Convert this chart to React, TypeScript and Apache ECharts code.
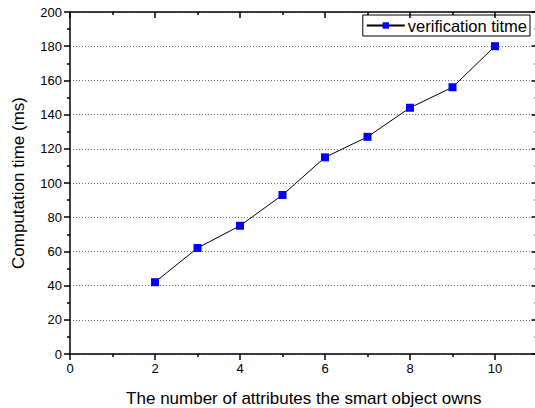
import React, { useEffect, useRef } from "react";
import * as echarts from "echarts";

const xValues = [2, 3, 4, 5, 6, 7, 8, 9, 10];
const times = [42, 62, 75, 93, 115, 127, 144, 156, 180];
const seriesName = "verification titme";
const xTitle = "The number of attributes the smart object owns";
const yTitle = "Computation time (ms)";

const FONT = "'Liberation Sans', Arial, sans-serif";

export default function App() {
  const ref = useRef<HTMLDivElement>(null);
  useEffect(() => {
    if (!ref.current) return;
    const chart = echarts.init(ref.current, undefined, { renderer: "svg" });
    const axisLine = { show: true, onZero: false, lineStyle: { color: "#000", width: 1.5 } };
    chart.setOption({
      animation: false,
      backgroundColor: "#fff",
      grid: { left: 70, right: -2.5, top: 12, bottom: 54, containLabel: false, outerBoundsMode: "none" },
      legend: {
        data: [{ name: seriesName }],
        right: 5,
        top: 15,
        padding: [2, 3, 2, 3],
        borderColor: "#000",
        borderWidth: 1,
        itemWidth: 38,
        itemHeight: 8,
        itemGap: 4,
        textStyle: { fontFamily: FONT, fontSize: 16.5, color: "#000", padding: [0, 0, 0, -2] },
      },
      xAxis: [
        {
          type: "value",
          min: 0,
          max: 11,
          interval: 2,
          position: "bottom",
          name: xTitle,
          nameLocation: "middle",
          nameGap: 36,
          nameTextStyle: { fontFamily: FONT, fontSize: 17, color: "#000" },
          axisLine,
          axisTick: { show: true, inside: false, length: 6, lineStyle: { color: "#000", width: 1.5 } },
          minorTick: { show: true, splitNumber: 2, length: 3, lineStyle: { color: "#000", width: 1.5 } },
          axisLabel: { fontFamily: FONT, fontSize: 13, color: "#000", margin: 8, showMaxLabel: false },
          splitLine: { show: false },
        },
        {
          type: "value",
          min: 0,
          max: 11,
          interval: 2,
          position: "top",
          axisLine,
          axisTick: { show: true, inside: true, length: 6, lineStyle: { color: "#000", width: 1.5 } },
          minorTick: { show: true, splitNumber: 2, length: 3, lineStyle: { color: "#000", width: 1.5 } },
          axisLabel: { show: false },
          splitLine: { show: false },
        },
      ],
      yAxis: [
        {
          type: "value",
          min: 0,
          max: 200,
          interval: 20,
          position: "left",
          name: yTitle,
          nameLocation: "middle",
          nameGap: 43,
          nameRotate: 90,
          nameTextStyle: { fontFamily: FONT, fontSize: 17, color: "#000" },
          axisLine,
          axisTick: { show: true, inside: false, length: 6, lineStyle: { color: "#000", width: 1.5 } },
          minorTick: { show: true, splitNumber: 2, length: 3, lineStyle: { color: "#000", width: 1.5 } },
          axisLabel: { fontFamily: FONT, fontSize: 13, color: "#000", margin: 8 },
          splitLine: { show: true, lineStyle: { color: "#777", width: 1, type: [1, 2] } },
        },
        {
          type: "value",
          min: 0,
          max: 200,
          interval: 20,
          position: "right",
          axisLine,
          axisTick: { show: true, inside: true, length: 6, lineStyle: { color: "#000", width: 1.5 } },
          minorTick: { show: true, splitNumber: 2, length: 3, lineStyle: { color: "#000", width: 1.5 } },
          axisLabel: { show: false },
          splitLine: { show: false },
        },
      ],
      series: [
        {
          name: seriesName,
          type: "line",
          data: xValues.map((x, i) => [x, times[i]]),
          symbol: "rect",
          symbolSize: 8,
          itemStyle: { color: "#0000ff" },
          lineStyle: { color: "#000", width: 1 },
        },
      ],
    });
    return () => chart.dispose();
  }, []);
  return (
    <div
      ref={ref}
      style={{ position: "fixed", left: 0, top: 0, width: 535, height: 408, background: "#fff" }}
    />
  );
}
